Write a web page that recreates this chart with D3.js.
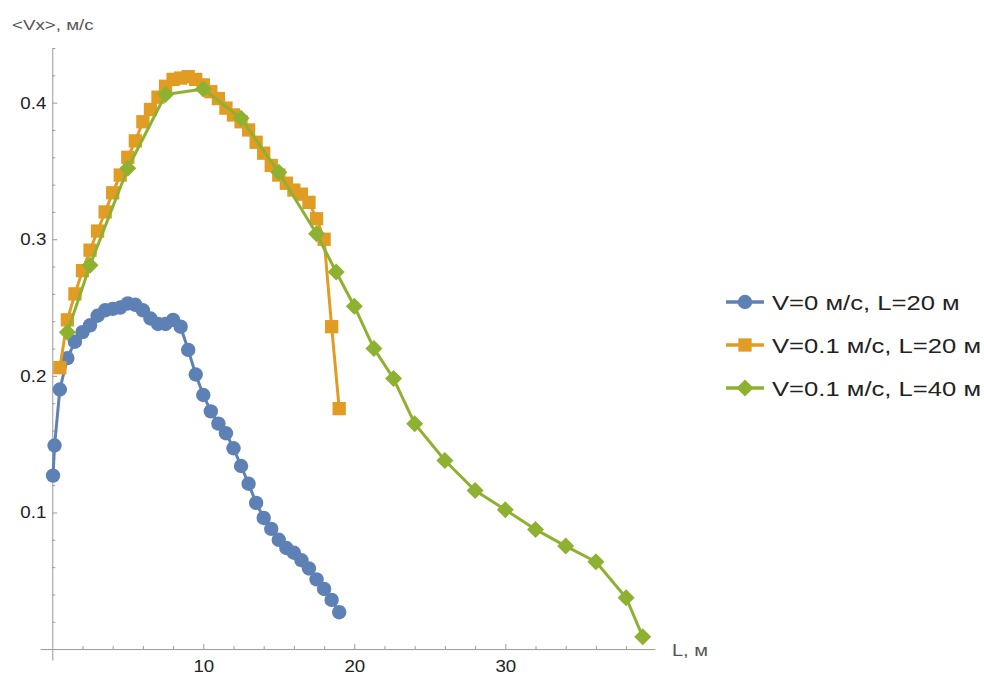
<!DOCTYPE html>
<html>
<head>
<meta charset="utf-8">
<script src="https://cdn.jsdelivr.net/npm/d3@7"></script>
<style>
  html, body { margin: 0; padding: 0; background: #fff; }
  svg { display: block; font-family: "Liberation Sans", Arial, sans-serif; }
</style>
</head>
<body>
<svg id="chart" width="984" height="675"></svg>
<script>
// ---------- data ----------
const seriesNames = ["V=0 м/с, L=20 м", "V=0.1 м/с, L=20 м", "V=0.1 м/с, L=40 м"];
const seriesColors = ["#5E81B5", "#E19C24", "#8FB131"];
const seriesShapes = ["circle", "square", "diamond"];

const blueL = [0.05, 0.15, 0.5, 1.0, 1.5, 2.0, 2.5, 3.0, 3.5, 4.0, 4.5, 5.0, 5.5, 6.0, 6.5, 7.0, 7.5, 8.0, 8.5, 9.0,
               9.5, 10.0, 10.5, 11.0, 11.5, 12.0, 12.5, 13.0, 13.5, 14.0, 14.5, 15.0, 15.5, 16.0, 16.5, 17.0, 17.5, 18.0, 18.5, 19.0];
const blueV = [0.127, 0.149, 0.190, 0.213, 0.225, 0.232, 0.237, 0.244, 0.248, 0.249, 0.250, 0.253, 0.252, 0.248, 0.242, 0.238, 0.238, 0.241, 0.236, 0.219,
               0.201, 0.186, 0.174, 0.165, 0.158, 0.147, 0.134, 0.121, 0.107, 0.096, 0.088, 0.080, 0.074, 0.0705, 0.065, 0.059, 0.051, 0.044, 0.036, 0.027];

const orangeL = [0.5, 1.0, 1.5, 2.0, 2.5, 3.0, 3.5, 4.0, 4.5, 5.0, 5.5, 6.0, 6.5, 7.0, 7.5, 8.0, 8.5, 9.0, 9.5,
                 10.0, 10.5, 11.0, 11.5, 12.0, 12.5, 13.0, 13.5, 14.0, 14.5, 15.0, 15.5, 16.0, 16.5, 17.0, 17.5, 18.0, 18.5, 19.0];
const orangeV = [0.206, 0.241, 0.260, 0.277, 0.292, 0.306, 0.320, 0.334, 0.347, 0.360, 0.372, 0.386, 0.395, 0.404, 0.412, 0.417, 0.418, 0.419, 0.417,
                 0.413, 0.408, 0.403, 0.396, 0.391, 0.386, 0.380, 0.371, 0.363, 0.354, 0.347, 0.341, 0.336, 0.333, 0.327, 0.315, 0.300, 0.236, 0.176];

const greenL = [1.0, 2.5, 5.0, 7.5, 10.0, 12.5, 15.0, 17.5, 18.8, 20.0, 21.3, 22.6, 24.0, 26.0, 28.0, 30.0, 32.0, 34.0, 36.0, 38.0, 39.1];
const greenV = [0.232, 0.281, 0.352, 0.406, 0.410, 0.3885, 0.349, 0.304, 0.276, 0.251, 0.220, 0.198, 0.165, 0.138, 0.116, 0.102, 0.0876, 0.0754, 0.0639, 0.0376, 0.009];

const xMajorTicks = [10, 20, 30];
const xMinorTicks = [2, 4, 6, 8, 12, 14, 16, 18, 22, 24, 26, 28, 32, 34, 36, 38];
const yMajorTicks = [0.1, 0.2, 0.3, 0.4];
const yMinorTicks = [0.02, 0.04, 0.06, 0.08, 0.12, 0.14, 0.16, 0.18, 0.22, 0.24, 0.26, 0.28, 0.32, 0.34, 0.36, 0.38, 0.42, 0.44];

const xTitle = "L, м";
const yTitle = "<Vx>, м/с";

// ---------- layout ----------
const svg = d3.select("#chart");
const x = d3.scaleLinear().domain([-0.8, 39.9]).range([40.2, 654.8]);
const y = d3.scaleLinear().domain([-0.008, 0.44]).range([660, 48]);

const axisColor = "#9a9a9a";
const labelColor = "#222";

// widen text horizontally (reference font renders wider)
function stretch(sel, k) {
  sel.each(function () {
    const w = this.getComputedTextLength();
    if (w > 0) d3.select(this).attr("textLength", w * k).attr("lengthAdjust", "spacingAndGlyphs");
  });
}

// x axis
const gx = svg.append("g").attr("transform", `translate(0,${y(0)})`);
gx.call(d3.axisBottom(x).tickValues(xMajorTicks).tickFormat(d3.format("d"))
  .tickSizeInner(-5).tickSizeOuter(0).tickPadding(11));
const gxm = svg.append("g").attr("transform", `translate(0,${y(0)})`);
gxm.call(d3.axisBottom(x).tickValues(xMinorTicks).tickFormat("")
  .tickSizeInner(-3).tickSizeOuter(0));
gxm.select(".domain").remove();

// y axis
const gy = svg.append("g").attr("transform", `translate(${x(0)},0)`);
gy.call(d3.axisLeft(y).tickValues(yMajorTicks).tickFormat(d3.format(".1f"))
  .tickSizeInner(-5).tickSizeOuter(0).tickPadding(6));
const gym = svg.append("g").attr("transform", `translate(${x(0)},0)`);
gym.call(d3.axisLeft(y).tickValues(yMinorTicks).tickFormat("")
  .tickSizeInner(-3).tickSizeOuter(0));
gym.select(".domain").remove();

svg.selectAll(".domain, .tick line").attr("stroke", axisColor).attr("stroke-width", 1);
svg.selectAll(".tick text").attr("fill", labelColor).attr("font-size", 17)
  .attr("font-family", "'Liberation Sans', Arial, sans-serif");
stretch(svg.selectAll(".tick text"), 1.1);

// axis titles
stretch(svg.append("text").attr("x", 12).attr("y", 30).attr("fill", "#555")
  .attr("font-size", 15).text(yTitle), 1.25);
stretch(svg.append("text").attr("x", 672).attr("y", 656).attr("fill", "#555")
  .attr("font-size", 16).text(xTitle), 1.25);

// ---------- series ----------
function markerPath(shape) {
  if (shape === "circle") return d3.symbol(d3.symbolCircle, Math.PI * 7.2 * 7.2)();
  if (shape === "square") return d3.symbol(d3.symbolSquare, 13.3 * 13.3)();
  return "M0,-8.5L8.5,0L0,8.5L-8.5,0Z";
}

const allSeries = [
  {L: blueL, V: blueV},
  {L: orangeL, V: orangeV},
  {L: greenL, V: greenV}
];

const line = d3.line().x(d => x(d[0])).y(d => y(d[1]));

allSeries.forEach((s, i) => {
  const pts = s.L.map((l, k) => [l, s.V[k]]);
  const g = svg.append("g");
  g.append("path").datum(pts).attr("d", line)
    .attr("fill", "none").attr("stroke", seriesColors[i]).attr("stroke-width", 3)
    .attr("stroke-linejoin", "round");
  g.selectAll("path.mk").data(pts).join("path").attr("class", "mk")
    .attr("d", markerPath(seriesShapes[i]))
    .attr("transform", d => `translate(${x(d[0])},${y(d[1])})`)
    .attr("fill", seriesColors[i]);
});

// ---------- legend ----------
const legendRows = [302, 345, 388];
const lg = svg.append("g");
seriesNames.forEach((name, i) => {
  const row = lg.append("g").attr("transform", `translate(0,${legendRows[i]})`);
  row.append("line").attr("x1", 726).attr("x2", 764).attr("y1", 0).attr("y2", 0)
    .attr("stroke", seriesColors[i]).attr("stroke-width", 3.5);
  row.append("path").attr("d", markerPath(seriesShapes[i]))
    .attr("transform", "translate(745,0)").attr("fill", seriesColors[i]);
  const t = row.append("text").attr("x", 772).attr("y", 7.5).attr("font-size", 21)
    .attr("fill", labelColor).text(name);
  stretch(t, 1.22);
});
</script>
</body>
</html>
